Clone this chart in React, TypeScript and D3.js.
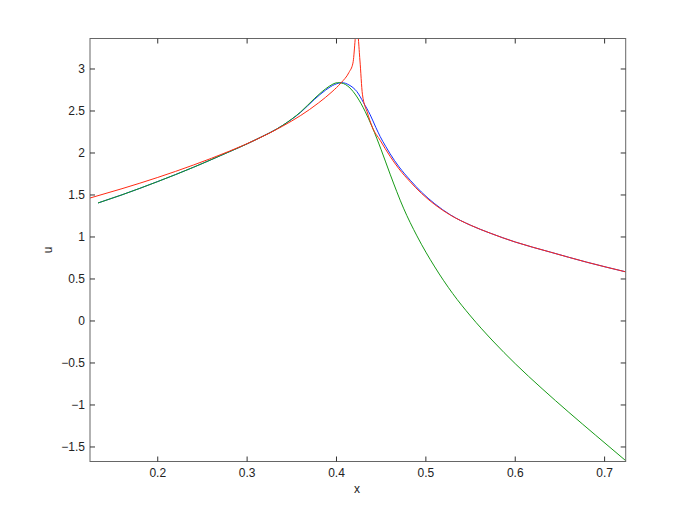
import React from "react";
import * as d3 from "d3";

const xTicks = [0.2, 0.3, 0.4, 0.5, 0.6, 0.7];
const yTicks = [-1.5, -1, -0.5, 0, 0.5, 1, 1.5, 2, 2.5, 3];

const greenX = [0.1332, 0.16, 0.2, 0.24, 0.27, 0.31, 0.34, 0.36, 0.375, 0.388, 0.396, 0.401, 0.406, 0.414, 0.423, 0.432, 0.44, 0.45, 0.46, 0.475, 0.49, 0.51, 0.53, 0.55, 0.575, 0.6, 0.63, 0.66, 0.69, 0.7236];
const greenU = [1.405, 1.502, 1.66, 1.83, 1.968, 2.16, 2.33, 2.49, 2.645, 2.765, 2.82, 2.837, 2.832, 2.784, 2.667, 2.496, 2.308, 2.038, 1.748, 1.343, 1.013, 0.643, 0.327, 0.059, -0.2385, -0.5085, -0.8055, -1.0875, -1.3605, -1.663];

const blueX = [0.1332, 0.16, 0.2, 0.24, 0.27, 0.31, 0.34, 0.36, 0.375, 0.388, 0.398, 0.406, 0.414, 0.4229, 0.4302, 0.4377, 0.444, 0.4489, 0.455, 0.46, 0.47, 0.4826, 0.495, 0.51, 0.5275, 0.55, 0.5721, 0.6, 0.6393, 0.68, 0.7236];
const blueU = [1.405, 1.502, 1.66, 1.83, 1.968, 2.16, 2.33, 2.485, 2.635, 2.75, 2.815, 2.837, 2.81, 2.73, 2.6, 2.455, 2.305, 2.195, 2.08, 1.99, 1.835, 1.675, 1.535, 1.395, 1.263, 1.14, 1.045, 0.94, 0.82, 0.7, 0.585];

const redX = [0.1242, 0.16, 0.2, 0.24, 0.28, 0.31, 0.34, 0.36, 0.38, 0.395, 0.405, 0.414, 0.4184, 0.4228, 0.4262, 0.429, 0.4347, 0.44, 0.4489, 0.46, 0.47, 0.4826, 0.495, 0.51, 0.5275, 0.55, 0.5721, 0.6, 0.6393, 0.68, 0.7236];
const redU = [1.464, 1.575, 1.709, 1.857, 2.021, 2.159, 2.321, 2.447, 2.597, 2.729, 2.834, 2.96, 3.07, 3.5, 3.107, 2.7, 2.476, 2.31, 2.15, 1.96, 1.81, 1.655, 1.52, 1.385, 1.26, 1.14, 1.045, 0.94, 0.82, 0.7, 0.585];

const W = 692, H = 520;
const L = 90, R = 625.7, T = 38.5, B = 461.5;

export default function App() {
  const x = d3.scaleLinear().domain([0.1242, 0.7236]).range([L, R]);
  const y = d3.scaleLinear().domain([-1.673, 3.363]).range([B, T]);
  const mk = (xs: number[], us: number[]) =>
    d3.line<number>().x((_, i) => x(xs[i])).y((d) => y(d)).curve(d3.curveMonotoneX)(us) || "";
  const font = "'Liberation Sans', Arial, Helvetica, sans-serif";
  const tl = 5;
  const fmt = (v: number) => (v < 0 ? "\u2212" + String(-v) : String(v));
  return (
    <svg width={W} height={H} style={{ position: "absolute", left: 0, top: 0, background: "#fff" }}>
      <defs>
        <clipPath id="plot">
          <rect x={L} y={T} width={R - L} height={B - T} />
        </clipPath>
      </defs>
      <rect x={0} y={0} width={W} height={H} fill="#fff" />
      <g clipPath="url(#plot)" fill="none" strokeWidth={1}>
        <path d={mk(blueX, blueU)} stroke="#1030ff" />
        <path d={mk(greenX, greenU)} stroke="#179a17" />
        <path d={mk(redX, redU)} stroke="#ff2a14" />
      </g>
      <rect x={L} y={T} width={R - L} height={B - T} fill="none" stroke="#666" strokeWidth={1} />
      <g stroke="#333" strokeWidth={1}>
        {xTicks.map((t) => (
          <g key={"x" + t}>
            <line x1={x(t)} x2={x(t)} y1={B} y2={B - tl} />
            <line x1={x(t)} x2={x(t)} y1={T} y2={T + tl} />
          </g>
        ))}
        {yTicks.map((t) => (
          <g key={"y" + t}>
            <line x1={L} x2={L + tl} y1={y(t)} y2={y(t)} />
            <line x1={R} x2={R - tl} y1={y(t)} y2={y(t)} />
          </g>
        ))}
      </g>
      <g fontFamily={font} fontSize={12} fill="#222">
        {xTicks.map((t) => (
          <text key={"xl" + t} x={x(t)} y={477} textAnchor="middle">
            {fmt(t)}
          </text>
        ))}
        {yTicks.map((t) => (
          <text key={"yl" + t} x={85} y={y(t) + 4.5} textAnchor="end">
            {fmt(t)}
          </text>
        ))}
        <text x={357} y={493} textAnchor="middle">x</text>
        <text transform="translate(52,250) rotate(-90)" textAnchor="middle">u</text>
      </g>
    </svg>
  );
}
